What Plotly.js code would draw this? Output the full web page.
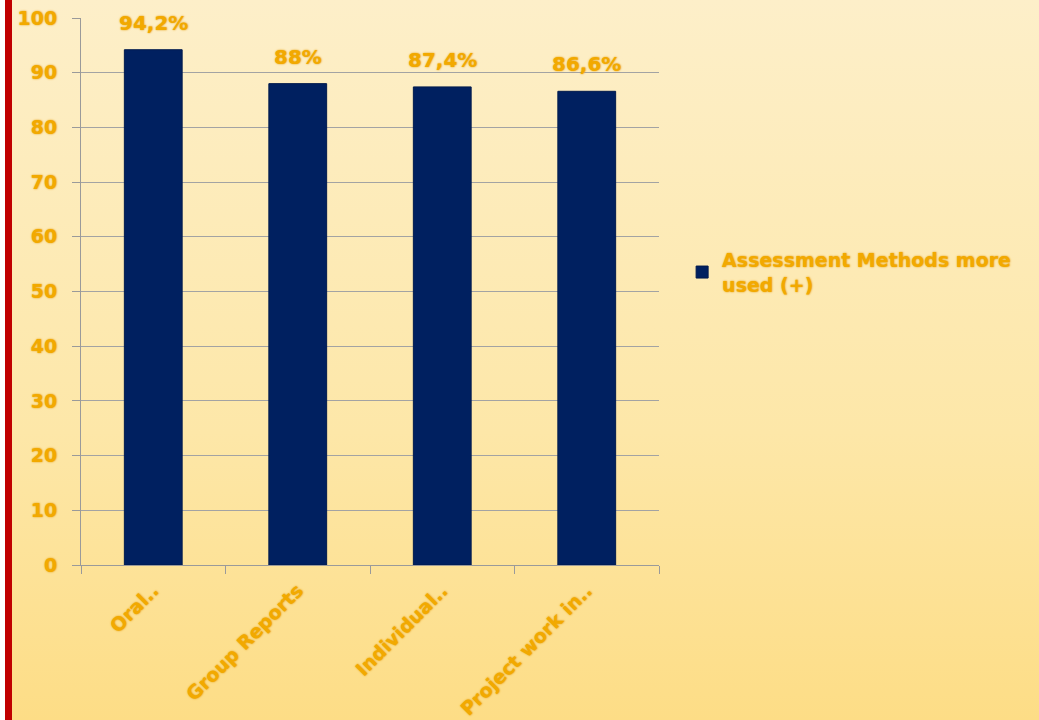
<!DOCTYPE html>
<html>
<head>
<meta charset="utf-8">
<script src="https://cdn.plot.ly/plotly-3.0.1.min.js"></script>
<style>
  html, body { margin: 0; padding: 0; }
  #wrap { position: relative; width: 1039px; height: 720px;
    background: linear-gradient(to bottom, #fdefc9 0%, #fde7a8 60%, #fddd86 100%); }
  #white { position: absolute; left: 0; top: 0; width: 5px; height: 720px; background: #ffffff; }
  #red { position: absolute; left: 5px; top: 0; width: 7px; height: 720px; background: #c00000; }
  #chart { position: absolute; left: 0; top: 0; width: 1039px; height: 720px; }
</style>
</head>
<body>
<div id="wrap">
  <div id="white"></div>
  <div id="red"></div>
  <div id="chart"></div>
</div>
<script>
const categories = ["Oral..", "Group Reports", "Individual..", "Project work in.."];
const values = [94.2, 88, 87.4, 86.6];
const valueLabels = ["94,2%", "88%", "87,4%", "86,6%"];
const seriesName = "Assessment Methods more<br>used (+)";
const yTickValues = [0, 10, 20, 30, 40, 50, 60, 70, 80, 90, 100];

const orange = "#f2a900";
const fontFam = "'DejaVu Sans', Verdana, sans-serif";
const glow = "0px 0px 2px #e39a00";

const trace = {
  type: "bar",
  x: categories,
  y: values,
  name: seriesName,
  marker: { color: "#002060", line: { color: "#001a4d", width: 1 } },
  showlegend: true,
  hoverinfo: "x+y"
};

const annotations = categories.map((c, i) => ({
  x: c, y: values[i], xref: "x", yref: "y",
  text: valueLabels[i], showarrow: false,
  yanchor: "middle", yshift: 27,
  font: { family: fontFam, size: 20, color: orange, weight: 700, shadow: glow }
}));

const layout = {
  width: 1039, height: 720,
  paper_bgcolor: "rgba(0,0,0,0)",
  plot_bgcolor: "rgba(0,0,0,0)",
  margin: { l: 81, r: 380, t: 18, b: 155 },
  bargap: 0.6,
  font: { family: fontFam, color: orange, weight: 700 },
  annotations: annotations,
  xaxis: {
    type: "category",
    tickangle: -45,
    tickfont: { family: fontFam, size: 19, color: orange, weight: 700, shadow: glow },
    showline: true, linecolor: "#9a9a9a", linewidth: 1,
    ticks: "outside", ticklen: 8, tickcolor: "#9a9a9a",
    tickson: "boundaries",
    ticklabelstandoff: 6,
    showgrid: false,
    automargin: false
  },
  yaxis: {
    range: [0, 100],
    tickvals: yTickValues,
    tickfont: { family: fontFam, size: 19, color: orange, weight: 700, shadow: glow },
    showline: true, linecolor: "#9a9a9a", linewidth: 1,
    ticks: "outside", ticklen: 8, tickcolor: "#9a9a9a",
    showgrid: true, gridcolor: "#a3a3a3", gridwidth: 1,
    zeroline: false,
    ticklabelstandoff: 11,
    automargin: false
  },
  legend: {
    x: 1.04, y: 0.535, xanchor: "left", yanchor: "middle",
    font: { family: fontFam, size: 19, color: orange, weight: 700, shadow: glow },
    bgcolor: "rgba(0,0,0,0)",
    itemwidth: 30
  }
};

Plotly.newPlot("chart", [trace], layout, { displayModeBar: false });
</script>
</body>
</html>
